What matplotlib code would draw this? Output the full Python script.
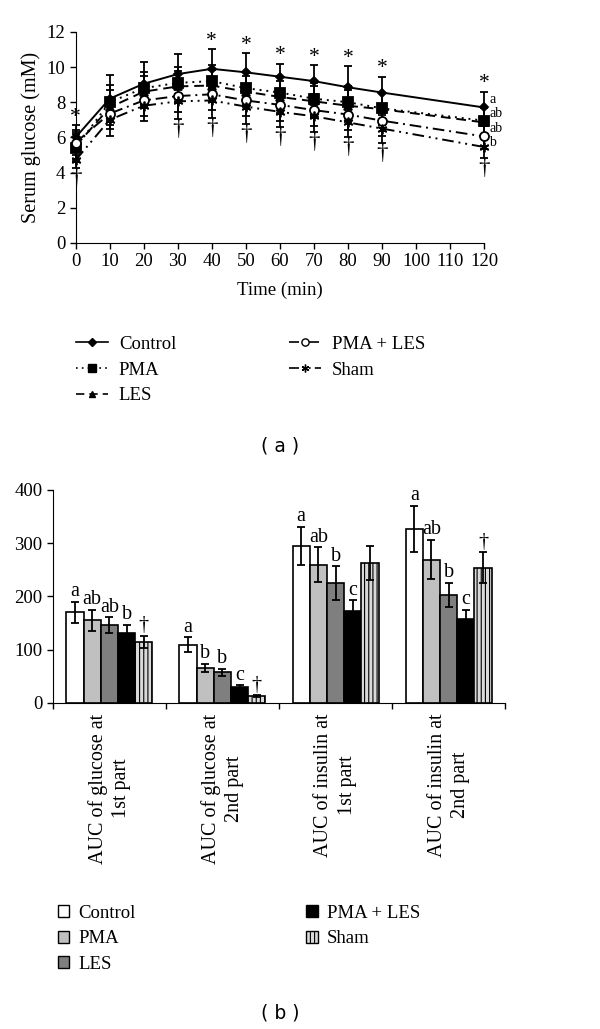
import numpy as np
import matplotlib
matplotlib.use("Agg")
import matplotlib.pyplot as plt
from matplotlib.lines import Line2D
from matplotlib.patches import Patch

plt.rcParams['font.family'] = ['Liberation Serif', 'DejaVu Serif']
plt.rcParams['hatch.linewidth'] = 0.8
fs = 13.5

# ---- data (a) serum glucose ----
times = [0, 10, 20, 30, 40, 50, 60, 70, 80, 90, 120]
control = [6.0, 8.2, 9.05, 9.6, 9.9, 9.7, 9.45, 9.2, 8.85, 8.55, 7.7]
control_sd = [0.7, 1.35, 1.25, 1.15, 1.1, 1.1, 0.75, 0.9, 1.2, 0.9, 0.9]
pma = [5.4, 8.0, 8.8, 9.1, 9.2, 8.8, 8.55, 8.2, 8.0, 7.65, 6.95]
pma_sd = [0.8, 1.0, 0.9, 0.9, 0.9, 0.9, 0.9, 0.9, 0.9, 0.9, 0.8]
les = [5.5, 7.7, 8.6, 8.9, 8.95, 8.6, 8.3, 8.05, 7.8, 7.6, 6.85]
les_sd = [0.8, 1.0, 0.9, 0.9, 0.9, 0.9, 0.9, 0.9, 0.9, 0.9, 0.8]
pma_les = [5.7, 7.35, 8.1, 8.35, 8.45, 8.1, 7.85, 7.55, 7.3, 6.95, 6.05]
pma_les_sd = [0.7, 0.9, 0.9, 0.9, 0.9, 0.9, 0.9, 0.9, 0.9, 0.9, 0.7]
sham = [4.7, 7.0, 7.8, 8.05, 8.1, 7.75, 7.45, 7.2, 6.85, 6.5, 5.45]
sham_sd = [0.45, 0.9, 0.85, 1.0, 1.0, 1.0, 0.85, 0.9, 0.85, 0.8, 0.6]

star_times = [0, 40, 50, 60, 70, 80, 90, 120]
dagger_times = [0, 30, 40, 50, 60, 70, 80, 90, 120]
end_letters = ['a', 'ab', 'ab', 'b']
end_letter_y = [8.15, 7.35, 6.5, 5.7]

# ---- data (b) AUC ----
categories = ['AUC of glucose at\n1st part', 'AUC of glucose at\n2nd part',
              'AUC of insulin at\n1st part', 'AUC of insulin at\n2nd part']
groups = ['Control', 'PMA', 'LES', 'PMA + LES', 'Sham']
auc = {
    'Control':   [170, 109, 295, 327],
    'PMA':       [155, 65, 259, 269],
    'LES':       [146, 57, 225, 202],
    'PMA + LES': [131, 30, 173, 157],
    'Sham':      [114, 12, 262, 254],
}
auc_err = {
    'Control':   [20, 14, 36, 43],
    'PMA':       [20, 8, 33, 37],
    'LES':       [15, 7, 31, 23],
    'PMA + LES': [16, 3, 20, 18],
    'Sham':      [12, 2, 32, 29],
}
auc_letters = {
    'Control':   ['a', 'a', 'a', 'a'],
    'PMA':       ['ab', 'b', 'ab', 'ab'],
    'LES':       ['ab', 'b', 'b', 'b'],
    'PMA + LES': ['b', 'c', 'c', 'c'],
    'Sham':      ['\u2020', '\u2020', '', '\u2020'],
}

fig = plt.figure(figsize=(6.0, 10.29), dpi=100)

# ================= (a) =================
ax1 = fig.add_axes([0.126, 0.764, 0.681, 0.205])
styles = [
    (control, control_sd, '-', 'D', 'black', 4.5, 'Control'),
    (pma, pma_sd, (0, (1, 2.5)), 's', 'black', 6.5, 'PMA'),
    (les, les_sd, (0, (5, 3)), '^', 'black', 6, 'LES'),
    (pma_les, pma_les_sd, (0, (6, 2.5, 1, 2.5)), 'o', 'white', 6.5, 'PMA + LES'),
    (sham, sham_sd, (0, (6, 2.5, 1, 2.5, 1, 2.5)), (6, 2, 0), 'black', 7, 'Sham'),
]
handles = []
for vals, sd, ls, mk, mfc, ms, lab in styles:
    ax1.errorbar(times, vals, yerr=sd, fmt='none', ecolor='black', elinewidth=1.3,
                 capsize=3, capthick=1.3, clip_on=False, zorder=2)
    ax1.plot(times, vals, linestyle=ls, color='black', lw=1.4, marker=mk,
             markersize=ms, markerfacecolor=mfc, markeredgecolor='black',
             markeredgewidth=1.3, clip_on=False, zorder=3)
    handles.append(Line2D([0], [0], linestyle=ls, color='black', lw=1.2, marker=mk,
                          markersize=ms * 0.8, markerfacecolor=mfc,
                          markeredgecolor='black', label=lab))

for t in star_times:
    i = times.index(t)
    ax1.text(t, control[i] + control_sd[i] + 0.45, '*', ha='center', va='center',
             fontsize=fs + 2)
for t in dagger_times:
    i = times.index(t)
    ax1.text(t, sham[i] - sham_sd[i] - 0.6, '\u2020', ha='center', va='center',
             fontsize=fs + 3)
for lab, yv in zip(end_letters, end_letter_y):
    ax1.text(121.5, yv, lab, ha='left', va='center', fontsize=fs - 3.5)

ax1.set_xlim(0, 120)
ax1.set_ylim(0, 12)
ax1.set_xticks(range(0, 121, 10))
ax1.set_yticks(range(0, 13, 2))
ax1.tick_params(labelsize=fs, direction='out', length=4, width=1)
ax1.spines['top'].set_visible(False)
ax1.spines['right'].set_visible(False)
ax1.set_xlabel('Time (min)', fontsize=fs, labelpad=8)
ax1.set_ylabel('Serum glucose (mM)', fontsize=fs + 1)

fig.legend(handles=handles, ncol=2, loc='upper left', bbox_to_anchor=(0.098, 0.69),
           frameon=False, fontsize=fs, handlelength=1.7, handletextpad=0.6,
           columnspacing=6.0, labelspacing=0.45)
fig.text(0.467, 0.567, '( a )', ha='center', va='center', fontsize=fs,
         family='DejaVu Sans')

# ================= (b) =================
ax2 = fig.add_axes([0.088, 0.317, 0.754, 0.207])
x = np.arange(len(categories))
w = 0.152
bar_colors = ['white', '#c0c0c0', '#7f7f7f', 'black', '#d9d9d9']
bar_hatch = [None, None, None, None, '||||']
bhandles = []
for k, g in enumerate(groups):
    pos = x + (k - 2) * w
    ax2.bar(pos, auc[g], width=w, color=bar_colors[k], edgecolor='black',
            linewidth=1.2, hatch=bar_hatch[k], zorder=2)
    ax2.errorbar(pos, auc[g], yerr=auc_err[g], fmt='none', ecolor='black',
                 elinewidth=1.3, capsize=3, capthick=1.3, zorder=3)
    for p, v, e, lab in zip(pos, auc[g], auc_err[g], auc_letters[g]):
        if lab:
            ax2.text(p, v + e + 1, lab, ha='center', va='bottom', fontsize=fs + 1)
    bhandles.append(Patch(facecolor=bar_colors[k], edgecolor='black',
                          hatch=bar_hatch[k], label=g))

ax2.set_xlim(-0.5, len(categories) - 0.5)
ax2.set_ylim(0, 400)
ax2.set_yticks(range(0, 401, 100))
ax2.set_xticks(np.arange(len(categories) + 1) - 0.5)
ax2.set_xticklabels([])
ax2.tick_params(labelsize=fs, direction='out', length=4, width=1)
ax2.spines['top'].set_visible(False)
ax2.spines['right'].set_visible(False)
for xi, lab in zip(x, categories):
    ax2.text(xi, -20, lab, rotation=90, ha='center', va='top',
             multialignment='center', fontsize=fs + 1, linespacing=1.3)

fig.legend(handles=bhandles, ncol=2, loc='upper left', bbox_to_anchor=(0.068, 0.137),
           frameon=False, fontsize=fs, handlelength=0.6, handleheight=0.6,
           handletextpad=0.5, columnspacing=9.1, labelspacing=0.45)
fig.text(0.467, 0.016, '( b )', ha='center', va='center', fontsize=fs,
         family='DejaVu Sans')

fig.savefig('out.png', dpi=100)
